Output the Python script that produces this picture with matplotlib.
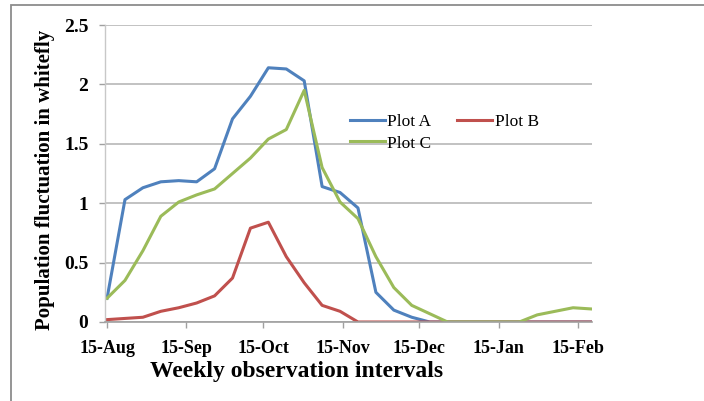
import numpy as np
import pandas as pd
import matplotlib
matplotlib.use('Agg')
import matplotlib.pyplot as plt
import matplotlib.dates as mdates
from matplotlib.ticker import FuncFormatter, MultipleLocator
from matplotlib.patches import Rectangle

#weekly observations starting 15-Aug
start_date = '2012-08-15'
n_weeks = 28

plot_a = [0.20, 1.03, 1.13, 1.18, 1.19, 1.18, 1.29, 1.71, 1.90, 2.14,
          2.13, 2.03, 1.14, 1.09, 0.96, 0.25, 0.10, 0.04, 0.00, 0.00,
          0.00, 0.00, 0.00, 0.00, 0.00, 0.00, 0.00, 0.00]
plot_b = [0.02, 0.03, 0.04, 0.09, 0.12, 0.16, 0.22, 0.37, 0.79, 0.84,
          0.55, 0.33, 0.14, 0.09, 0.00, 0.00, 0.00, 0.00, 0.00, 0.00,
          0.00, 0.00, 0.00, 0.00, 0.00, 0.00, 0.00, 0.00]
plot_c = [0.20, 0.35, 0.60, 0.89, 1.01, 1.07, 1.12, 1.25, 1.38, 1.54,
          1.62, 1.95, 1.30, 1.01, 0.87, 0.55, 0.29, 0.14, 0.07, 0.00,
          0.00, 0.00, 0.00, 0.00, 0.06, 0.09, 0.12, 0.11]

series_names = ['Plot A', 'Plot B', 'Plot C']
series_colors = ['#4F81BD', '#C0504D', '#9BBB59']

dates = pd.date_range(start_date, periods=n_weeks, freq='7D')

plt.rcParams['font.family'] = ['Liberation Serif', 'DejaVu Serif']

fig = plt.figure(figsize=(7.04, 4.01), dpi=100)
fig.patch.set_facecolor('white')

#outer grey frame, cut off at right and bottom like the reference
fig.patches.append(Rectangle((11 / 704, -0.05), 1.2, 1 - 5 / 401 + 0.05,
                             transform=fig.transFigure, fill=False,
                             edgecolor='#8c8c8c', linewidth=1.3))

ax = fig.add_axes([105 / 704, 1 - 322 / 401, 487 / 704, 297 / 401])

lines = {}
for name, vals, col in zip(series_names, [plot_a, plot_b, plot_c], series_colors):
    lines[name], = ax.plot(dates, vals, color=col, linewidth=2.2,
                           solid_joinstyle='round', label=name)

ax.set_ylim(0, 2.5)
ax.yaxis.set_major_locator(MultipleLocator(0.5))
ax.yaxis.set_major_formatter(FuncFormatter(lambda v, p: '%g' % v))
ax.set_xlim(dates[0] - pd.Timedelta(days=0.8), dates[-1] + pd.Timedelta(days=0.4))
ax.xaxis.set_major_locator(mdates.MonthLocator(bymonthday=15))
ax.xaxis.set_major_formatter(mdates.DateFormatter('%d-%b'))

ax.grid(axis='y', color='#bdbdbd', linewidth=1.3)
ax.set_axisbelow(True)
for side in ['top', 'right']:
    ax.spines[side].set_visible(False)
ax.spines['left'].set_color('#c8c8c8')
ax.spines['bottom'].set_color('#a0a0a0')
ax.spines['left'].set_linewidth(1.0)
ax.spines['bottom'].set_linewidth(1.2)
ax.tick_params(axis='both', colors='#a0a0a0', length=4, width=1.0,
               labelcolor='black')
ax.tick_params(axis='y', pad=8)
ax.tick_params(axis='x', pad=9)
for lab in ax.get_xticklabels():
    lab.set_fontsize(13)
    lab.set_fontweight('bold')
for lab in ax.get_yticklabels():
    lab.set_fontsize(14)
    lab.set_fontweight('bold')

fig.text(297 / 704, 1 - 372 / 401, 'Weekly observation intervals',
         ha='center', va='center', fontsize=17, fontweight='bold')
fig.text(45 / 704, 1 - 180 / 401, 'Population fluctuation in whitefly',
         ha='center', va='center', rotation=90, fontsize=15, fontweight='bold')

handles = [lines['Plot A'], lines['Plot C'], lines['Plot B']]
ax.legend(handles, [h.get_label() for h in handles], ncol=2,
          loc='upper left', bbox_to_anchor=(350 / 704, 1 - 114 / 401),
          bbox_transform=fig.transFigure, frameon=False, fontsize=12.5,
          handlelength=2.0, handletextpad=0.15, columnspacing=1.5,
          labelspacing=0.3, borderpad=0, borderaxespad=0)

fig.savefig('out.png', dpi=100)
